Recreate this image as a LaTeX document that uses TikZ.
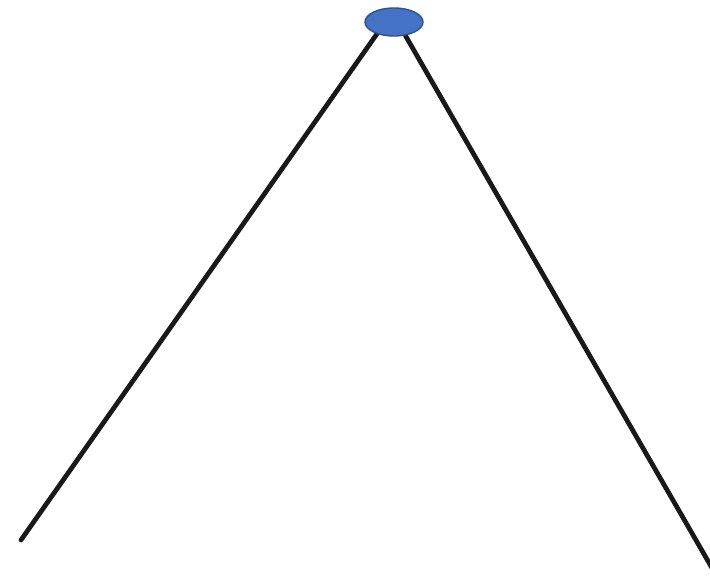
\documentclass[tikz,border=0pt]{standalone}
\usepackage{tikz}
\usetikzlibrary{shapes.geometric,backgrounds}
\definecolor{topblue}{HTML}{4472C4}
\definecolor{topedge}{HTML}{2F528F}

\begin{document}
\begin{tikzpicture}[
  x=0.01cm, y=-0.01cm,
  topnode/.style={ellipse, draw=topedge, line width=0.4pt, fill=topblue,
              minimum width=0.58cm, minimum height=0.28cm, inner sep=0pt},
  leg/.style={line width=1.35pt, black!90, line cap=round},
]
\useasboundingbox (0,0) rectangle (710,576);
\node[topnode] (top) at (394,22) {};
\coordinate (lend) at (21,540);
\coordinate (rend) at (712,568);

\begin{scope}[on background layer]
\draw[leg] (top.215) -- (lend);
\draw[leg] (top.-50) -- (rend);
\end{scope}
\end{tikzpicture}
\end{document}
